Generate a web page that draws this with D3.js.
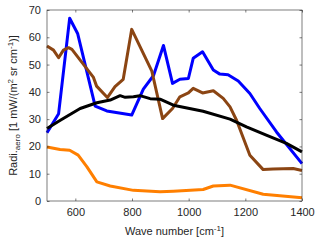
<!DOCTYPE html>
<html>
<head>
<meta charset="utf-8">
<script src="https://cdn.jsdelivr.net/npm/d3@7"></script>
<style>
  body { margin: 0; background: #fff; }
  text { font-family: "Liberation Sans", Arial, sans-serif; fill: #262626; }
</style>
</head>
<body>
<div id="chart"></div>
<script>
// data
var waveBlue = [500, 541, 580, 608, 670, 711, 799, 840, 876, 911, 943, 969, 999, 1016, 1049, 1087, 1110, 1139, 1175, 1216, 1251, 1310, 1400];
var blue     = [25, 32, 67, 61.4, 34.8, 33, 31.5, 41, 46, 57, 43.1, 44.6, 44.9, 52.3, 54.7, 48, 46.5, 46.3, 44, 39.4, 33.9, 25.3, 13.7];

var waveBrown = [500, 523, 541, 558, 576, 588, 664, 675, 713, 740, 769, 799, 870, 908, 943, 969, 999, 1016, 1049, 1087, 1122, 1146, 1169, 1216, 1263, 1298, 1369, 1400];
var brown     = [56.8, 55.3, 52.5, 55.3, 56.2, 55.6, 45.3, 42.1, 37.9, 41.9, 44.6, 62.9, 47.6, 30.2, 33.9, 38.2, 39.6, 41.3, 39.6, 40.4, 37.6, 34.5, 29.6, 16.8, 11.5, 11.7, 11.9, 11.2];

var waveBlack = [500, 547, 617, 676, 723, 758, 776, 805, 828, 864, 899, 946, 1051, 1146, 1204, 1274, 1345, 1400];
var black     = [26.6, 29.6, 33.9, 36, 37, 38.6, 38, 38.2, 38.6, 37.5, 37.3, 35.1, 32.9, 30, 27.2, 24.1, 21.1, 18];

var waveOrange = [500, 546, 580, 610, 641, 676, 723, 805, 899, 946, 1051, 1087, 1146, 1263, 1400];
var orange     = [19.8, 18.9, 18.6, 16.8, 12.5, 7, 5.5, 3.9, 3.4, 3.6, 4.2, 5.5, 5.8, 2.5, 1.2];

var xTicks = [600, 800, 1000, 1200, 1400];
var yTicks = [0, 10, 20, 30, 40, 50, 60, 70];

var margin = {top: 10, right: 18, bottom: 43, left: 47},
    W = 320, H = 244,
    width = W - margin.left - margin.right,
    height = H - margin.top - margin.bottom;

var svg = d3.select("#chart").append("svg")
    .attr("width", W)
    .attr("height", H);

var g = svg.append("g")
    .attr("transform", "translate(" + margin.left + "," + margin.top + ")");

var x = d3.scaleLinear().domain([500, 1400]).range([0, width]);
var y = d3.scaleLinear().domain([0, 70]).range([height, 0]);

var series = [
  {xs: waveBlack, ys: black, color: "#000000"},
  {xs: waveOrange, ys: orange, color: "#ff7f00"},
  {xs: waveBrown, ys: brown, color: "#8b4513"},
  {xs: waveBlue, ys: blue, color: "#0000ff"}
];

var line = d3.line()
    .x(function(d) { return x(d[0]); })
    .y(function(d) { return y(d[1]); });

g.append("clipPath").attr("id", "clip")
  .append("rect").attr("x", -2).attr("y", -2).attr("width", width + 4).attr("height", height + 4);

// draw order: blue, brown, black, orange
[series[3], series[2], series[0], series[1]].forEach(function(s) {
  g.append("path")
    .datum(s.xs.map(function(v, i) { return [v, s.ys[i]]; }))
    .attr("fill", "none")
    .attr("stroke", s.color)
    .attr("stroke-width", 3)
    .attr("stroke-linejoin", "round")
    .attr("clip-path", "url(#clip)")
    .attr("d", line);
});

// axes, matlab style box with inward ticks
var axisCol = "#262626";
function styleAxis(sel) {
  sel.select(".domain").remove();
  sel.selectAll("line").attr("stroke", axisCol).attr("stroke-width", 0.6);
  sel.selectAll("text").style("font-size", "11px").attr("fill", axisCol);
}

g.append("g")
  .attr("transform", "translate(0," + height + ")")
  .call(d3.axisBottom(x).tickValues(xTicks).tickFormat(d3.format("d")).tickSizeInner(-2.5).tickSizeOuter(0).tickPadding(7))
  .call(styleAxis);

g.append("g")
  .call(d3.axisTop(x).tickValues(xTicks).tickSizeInner(-2.5).tickSizeOuter(0).tickFormat(""))
  .call(styleAxis);

g.append("g")
  .call(d3.axisLeft(y).tickValues(yTicks).tickSizeInner(-2.5).tickSizeOuter(0).tickPadding(6))
  .call(styleAxis);

g.append("g")
  .attr("transform", "translate(" + width + ",0)")
  .call(d3.axisRight(y).tickValues(yTicks).tickSizeInner(-2.5).tickSizeOuter(0).tickFormat(""))
  .call(styleAxis);

g.append("rect")
  .attr("width", width).attr("height", height)
  .attr("fill", "none").attr("stroke", axisCol).attr("stroke-width", 0.6);

// x label
var xl = svg.append("text")
  .attr("x", margin.left + width / 2)
  .attr("y", 235)
  .attr("text-anchor", "middle")
  .style("font-size", "11px");
xl.append("tspan").text("Wave number [cm");
xl.append("tspan").attr("dy", -4).style("font-size", "8px").text("-1");
xl.append("tspan").attr("dy", 4).text("]");

// y label
var yl = svg.append("text")
  .attr("transform", "translate(17," + (margin.top + height / 2) + ") rotate(-90)")
  .attr("text-anchor", "middle")
  .style("font-size", "11px");
yl.append("tspan").text("Radi.");
yl.append("tspan").attr("dy", 3).style("font-size", "8px").text("aero");
yl.append("tspan").attr("dy", -3).text(" [1 mW/(m");
yl.append("tspan").attr("dy", -4).style("font-size", "8px").text("2");
yl.append("tspan").attr("dy", 4).text(" sr cm");
yl.append("tspan").attr("dy", -4).style("font-size", "8px").text("-1");
yl.append("tspan").attr("dy", 4).text(")]");
</script>
</body>
</html>
